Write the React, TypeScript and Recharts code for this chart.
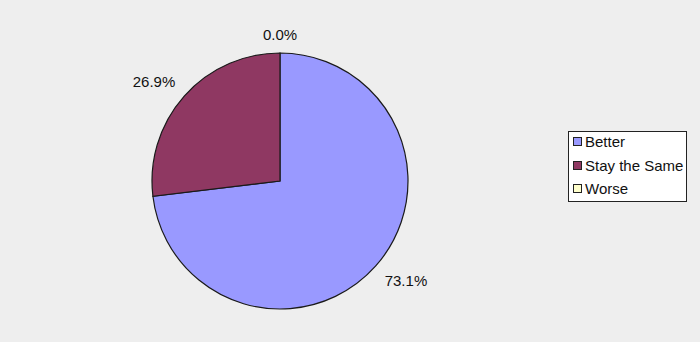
import React from 'react';
import { PieChart, Pie, Cell, Legend } from 'recharts';

const categories = ['Better', 'Stay the Same', 'Worse'];
const values = [73.1, 26.9, 0];
const colors = ['#9999ff', '#8f3862', '#ffffcc'];

const data = categories.map((name, i) => ({ name, value: values[i] }));

const FONT = '"Liberation Sans", Arial, Helvetica, sans-serif';
const RAD = Math.PI / 180;

const renderLabel = (props: any) => {
  const { cx, cy, midAngle, outerRadius, percent } = props;
  const c = Math.cos(-midAngle * RAD);
  const s = Math.sin(-midAngle * RAD);
  const r = outerRadius + 11;
  const m = Math.max(Math.abs(c), Math.abs(s));
  const hw = 22;
  const hh = 8;
  const x = cx + r * c + (hw * c) / m;
  const y = cy + r * s + (hh * s) / m;
  return (
    <text
      x={x}
      y={y}
      textAnchor="middle"
      dominantBaseline="central"
      fill="#111"
      fontSize={15}
      fontFamily={FONT}
    >
      {(percent * 100).toFixed(1) + '%'}
    </text>
  );
};

const renderLegend = () => (
  <div
    style={{
      position: 'absolute',
      left: 568,
      top: 131,
      width: 117,
      height: 69,
      background: '#ffffff',
      border: '1.5px solid #222',
      fontFamily: FONT,
      fontSize: 15,
      color: '#111',
      boxSizing: 'content-box',
    }}
  >
    <div style={{ transform: 'translateY(-2px)' }}>
      {categories.map((name, i) => (
        <div key={name} style={{ display: 'flex', alignItems: 'center', height: 23.5, paddingLeft: 4 }}>
          <span
            style={{
              display: 'inline-block',
              width: 7,
              height: 7,
              background: colors[i],
              border: '1px solid #222',
              marginRight: 3,
            }}
          />
          <span style={{ lineHeight: '17px' }}>{name}</span>
        </div>
      ))}
    </div>
  </div>
);

export default function App() {
  return (
    <div style={{ position: 'fixed', left: 0, top: 0, width: 700, height: 342, background: '#eeeeee' }}>
      <PieChart width={700} height={342} margin={{ top: 0, right: 0, bottom: 0, left: 0 }}>
        <Pie
          data={data}
          dataKey="value"
          nameKey="name"
          cx={280}
          cy={181}
          outerRadius={128}
          startAngle={90}
          endAngle={-270}
          stroke="#1a1a1a"
          strokeWidth={1.2}
          label={renderLabel}
          labelLine={false}
          isAnimationActive={false}
        >
          {data.map((d, i) => (
            <Cell key={d.name} fill={colors[i]} />
          ))}
        </Pie>
        <Legend content={renderLegend} wrapperStyle={{ position: 'absolute', left: 0, top: 0, width: 0, height: 0 }} />
      </PieChart>
    </div>
  );
}
